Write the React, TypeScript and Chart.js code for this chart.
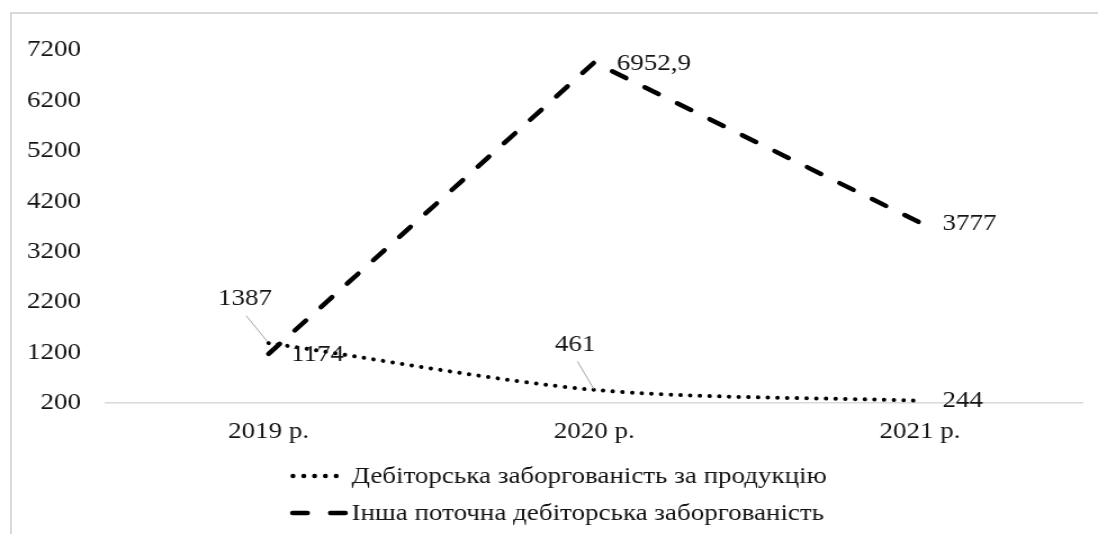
import React, { useEffect, useRef } from 'react';
import { Chart, registerables } from 'chart.js';

Chart.register(...registerables);

const categories = ['2019 р.', '2020 р.', '2021 р.'];
const tradeReceivables = [1387, 461, 244];
const otherReceivables = [1174, 6952.9, 3777];
const yTicks = [200, 1200, 2200, 3200, 4200, 5200, 6200, 7200];
const seriesNames = [
  'Дебіторська заборгованість за продукцію',
  'Інша поточна дебіторська заборгованість',
];

const SX = 1.125;
const W = 1098 / SX;
const H = 534;
const FONT = "'Liberation Serif', 'Times New Roman', serif";
const FONT_SIZE = 24;
const TEXT = '#141414';

const fmt = (v: number) => String(v).replace('.', ',');

type Placement = { dx: number; dy: number; align: CanvasTextAlign; leader?: number[] };

const labelPlacements: Placement[][] = [
  [
    { dx: -21, dy: -44, align: 'center', leader: [-20, -27.5, -1, -1.5] },
    { dx: -17, dy: -45.5, align: 'center', leader: [-15, -28.5, -0.5, -1] },
    { dx: 20, dy: 0, align: 'left' },
  ],
  [
    { dx: 20, dy: 0.5, align: 'left' },
    { dx: 20, dy: 1, align: 'left' },
    { dx: 20, dy: 1, align: 'left' },
  ],
];

const legendRows = [
  { lineY: 476, textY: 483, x0: 260.4, x1: 308.4, dash: [0.01, 9.6], width: 4.5 },
  { lineY: 513, textY: 520, x0: 260, x1: 308, dash: [13.3, 20.4], width: 4.5 },
];
const legendTextX = 312.5;

const pointLabelPlugin = {
  id: 'pointLabels',
  afterDatasetsDraw(chart: any) {
    const ctx: CanvasRenderingContext2D = chart.ctx;
    ctx.save();
    ctx.font = `${FONT_SIZE}px ${FONT}`;
    ctx.fillStyle = TEXT;
    ctx.textBaseline = 'middle';
    chart.data.datasets.forEach((ds: any, di: number) => {
      const meta = chart.getDatasetMeta(di);
      meta.data.forEach((pt: any, i: number) => {
        const p = labelPlacements[di][i];
        const v = ds.data[i] as number;
        if (p.leader) {
          ctx.save();
          ctx.strokeStyle = '#a6a6a6';
          ctx.lineWidth = 1;
          ctx.setLineDash([]);
          ctx.beginPath();
          ctx.moveTo(pt.x + p.leader[0], pt.y + p.leader[1]);
          ctx.lineTo(pt.x + p.leader[2], pt.y + p.leader[3]);
          ctx.stroke();
          ctx.restore();
        }
        ctx.textAlign = p.align;
        ctx.fillText(fmt(v), pt.x + p.dx, pt.y + p.dy);
      });
    });
    ctx.restore();
  },
};

const legendPlugin = {
  id: 'stackedLegend',
  afterDraw(chart: any) {
    const ctx: CanvasRenderingContext2D = chart.ctx;
    ctx.save();
    chart.data.datasets.forEach((ds: any, di: number) => {
      const r = legendRows[di];
      ctx.save();
      ctx.strokeStyle = ds.borderColor;
      ctx.lineWidth = r.width;
      ctx.lineCap = 'round';
      ctx.setLineDash(r.dash);
      ctx.beginPath();
      ctx.moveTo(r.x0, r.lineY);
      ctx.lineTo(r.x1, r.lineY);
      ctx.stroke();
      ctx.restore();
      ctx.font = `${FONT_SIZE}px ${FONT}`;
      ctx.fillStyle = TEXT;
      ctx.textAlign = 'left';
      ctx.textBaseline = 'alphabetic';
      ctx.fillText(ds.label, legendTextX, r.textY);
    });
    ctx.restore();
  },
};

export default function App() {
  const ref = useRef<HTMLCanvasElement | null>(null);

  useEffect(() => {
    if (!ref.current) return;
    const chart = new Chart(ref.current, {
      type: 'line',
      data: {
        labels: categories,
        datasets: [
          {
            label: seriesNames[0],
            data: tradeReceivables,
            borderColor: '#000000',
            borderWidth: 4,
            borderDash: [0.01, 8.6],
            borderCapStyle: 'round',
            pointRadius: 0,
            tension: 0.3,
            fill: false,
          },
          {
            label: seriesNames[1],
            data: otherReceivables,
            borderColor: '#000000',
            borderWidth: 4.5,
            borderDash: [14, 19],
            borderCapStyle: 'round',
            pointRadius: 0,
            tension: 0,
            fill: false,
          },
        ],
      },
      options: {
        animation: false,
        responsive: true,
        maintainAspectRatio: false,
        events: [],
        layout: { padding: { top: 50, right: 13.5, left: 0, bottom: 0 } },
        plugins: { legend: { display: false }, tooltip: { enabled: false } },
        scales: {
          x: {
            type: 'category',
            offset: true,
            grid: { display: false, drawTicks: false },
            border: { display: true, color: '#d9d9d9', width: 1.5 },
            ticks: { color: TEXT, font: { family: FONT, size: FONT_SIZE }, padding: 14.5, maxRotation: 0 },
            afterFit(s: any) {
              s.height = H - 403;
            },
          },
          y: {
            min: 200,
            max: 7200,
            grid: { display: false, drawTicks: false },
            border: { display: false },
            ticks: {
              color: TEXT,
              font: { family: FONT, size: FONT_SIZE },
              padding: 22,
              callback: (v: any) => String(v),
            },
            afterBuildTicks(s: any) {
              s.ticks = yTicks.map((v) => ({ value: v }));
            },
            afterFit(s: any) {
              s.width = 94;
            },
          },
        },
      } as any,
      plugins: [pointLabelPlugin, legendPlugin],
    });
    return () => chart.destroy();
  }, []);

  return (
    <div
      style={{
        position: 'fixed',
        left: 0,
        top: 0,
        width: 1098,
        height: 534,
        overflow: 'hidden',
        background: '#ffffff',
      }}
    >
      <div
        style={{
          position: 'absolute',
          left: 10,
          top: 12,
          width: 1200,
          height: 700,
          border: '2px solid #d9d9d9',
          boxSizing: 'border-box',
        }}
      />
      <div
        style={{
          position: 'absolute',
          left: 0,
          top: 0,
          width: W,
          height: H,
          transform: `scaleX(${SX})`,
          transformOrigin: '0 0',
        }}
      >
        <canvas ref={ref} />
      </div>
    </div>
  );
}
